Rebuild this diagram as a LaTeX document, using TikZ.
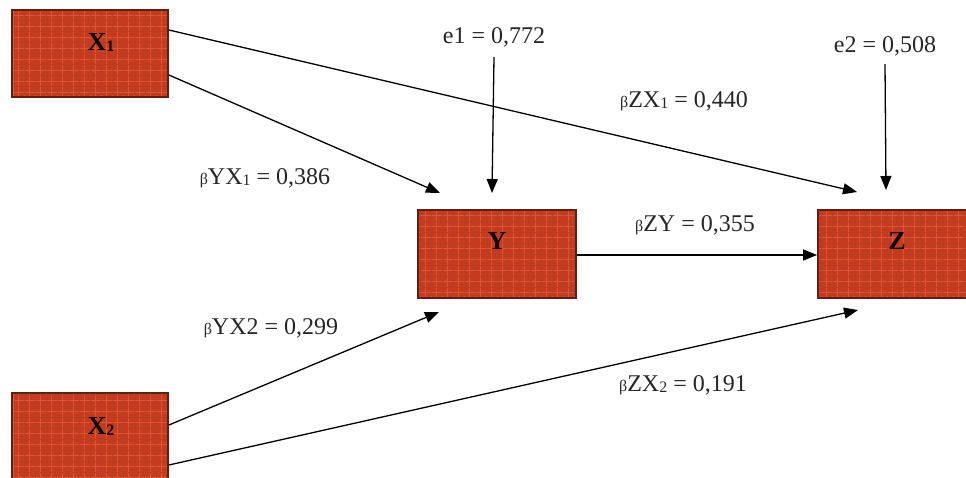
\documentclass[tikz,border=0pt]{standalone}
\usepackage{fontspec}
\setmainfont{Liberation Serif}
\usetikzlibrary{arrows.meta}
\definecolor{brick}{RGB}{198,58,32}
\definecolor{brickline}{RGB}{236,112,70}
\definecolor{brickdark}{RGB}{150,40,22}
\definecolor{brickborder}{RGB}{95,32,18}
\newcommand{\bt}{{\fontsize{16}{16}\selectfont β}}
\newcommand{\sm}[1]{\raisebox{-1pt}{\fontsize{16}{16}\selectfont #1}}
\tikzset{
  box/.style={draw=brickborder, line width=1.8pt, fill=brick, inner sep=0pt,
    path picture={
      \draw[brickline, line width=0.6pt, opacity=0.55, step=5.5pt]
        (path picture bounding box.south west) grid (path picture bounding box.north east);
      \draw[brickdark, line width=0.5pt, opacity=0.5, step=11pt]
        ([shift={(2pt,2pt)}]path picture bounding box.south west) grid (path picture bounding box.north east);
    }},
  boxlab/.style={font=\fontsize{26}{28}\selectfont\bfseries, text=black!85!brickborder, inner sep=0pt},
  coef/.style={font=\fontsize{24}{28}\selectfont, text=black!85, inner sep=2pt},
  arr/.style={line width=1.3pt, -{Triangle[length=14pt,width=11pt]}}
}
\begin{document}
\begin{tikzpicture}[x=1pt,y=-1pt]
\useasboundingbox (0,0) rectangle (966,478);
\clip (0,0) rectangle (966,478);
% boxes
\node[box, minimum width=156pt, minimum height=87pt] (x1) at (90,53.5) {};
\node[box, minimum width=158pt, minimum height=88pt] (y) at (497,254) {};
\node[box, minimum width=160pt, minimum height=88pt] (z) at (898,254) {};
\node[box, minimum width=156pt, minimum height=92pt] (x2) at (90,439) {};
% box labels
\node[boxlab] (x1lab) at (101,42) {X\sm{1}};
\node[boxlab] (ylab) at (497,241) {Y};
\node[boxlab] (zlab) at (897,241) {Z};
\node[boxlab] (x2lab) at (101,426) {X\sm{2}};
% coefficient labels
\node[coef] (e1) at (494,37) {e1 = 0,772};
\node[coef] (e2) at (885,46) {e2 = 0,508};
\node[coef] (byx1) at (265,178) {\bt YX\sm{1} = 0,386};
\node[coef] (bzx1) at (684,101) {\bt ZX\sm{1} = 0,440};
\node[coef] (bzy) at (695,225) {\bt ZY = 0,355};
\node[coef] (byx2) at (271,328) {\bt YX2 = 0,299};
\node[coef] (bzx2) at (683,385) {\bt ZX\sm{2} = 0,191};
% arrow tips
\coordinate (yin1) at (440,193);
\coordinate (yin2) at (492,193);
\coordinate (yin3) at (439,312);
\coordinate (zin1) at (857,192);
\coordinate (zin2) at (886,190);
\coordinate (zin3) at (858,310);
% connectors
\draw[arr] ([yshift=23.5pt]x1.east) -- (zin1);
\draw[arr] ([yshift=-21.5pt]x1.east) -- (yin1);
\draw[arr] ([yshift=-8pt]e1.south) -- (yin2);
\draw[arr] ([yshift=-6pt]e2.south) -- (zin2);
\draw[arr] ([yshift=-1pt]y.east) -- ([yshift=-1pt]z.west);
\draw[arr] ([yshift=14pt]x2.east) -- (yin3);
\draw[arr] ([yshift=-26pt]x2.east) -- (zin3);
\end{tikzpicture}
\end{document}
